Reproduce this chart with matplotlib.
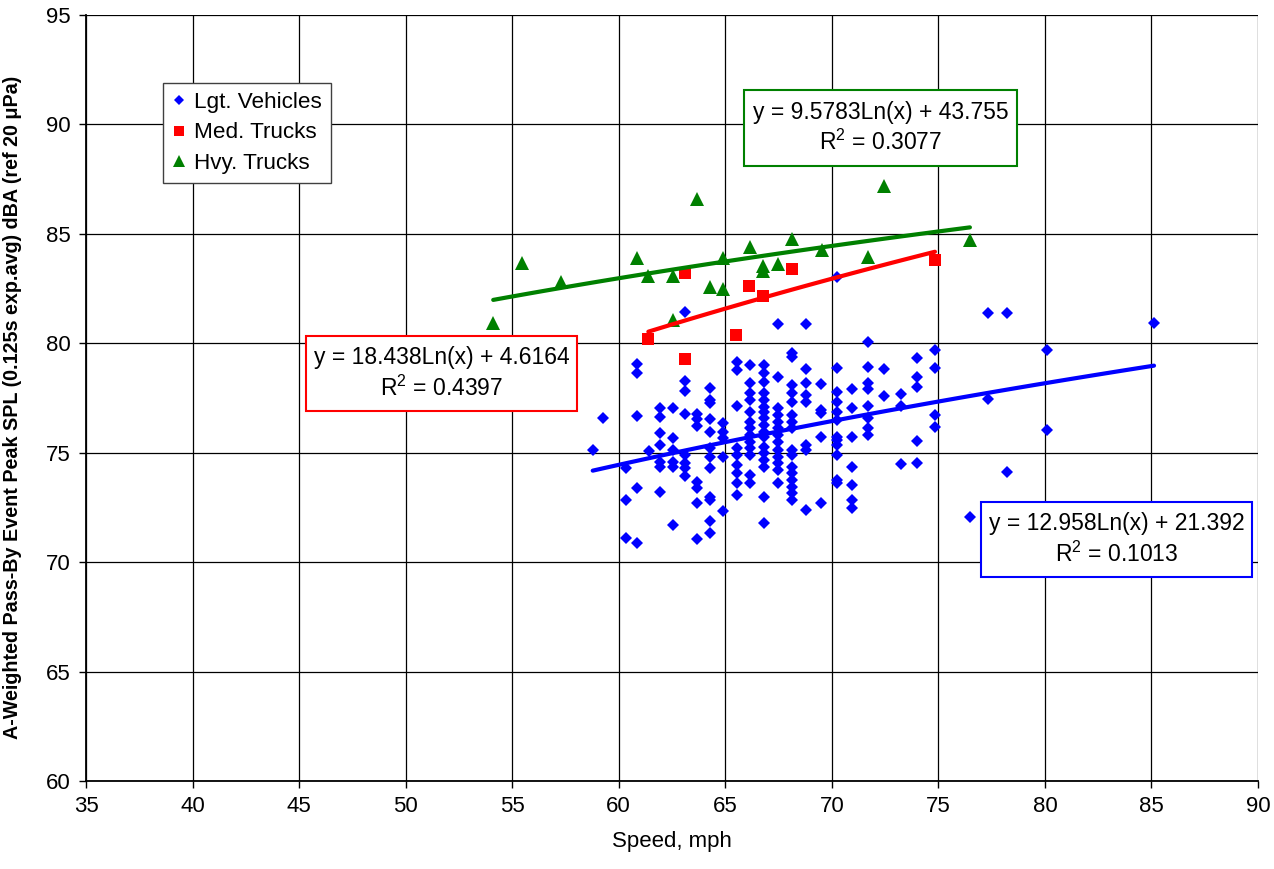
import numpy as np
import matplotlib
matplotlib.use("Agg")
import matplotlib.pyplot as plt
from matplotlib.patches import Rectangle

plt.rcParams['font.family'] = ['Liberation Sans', 'DejaVu Sans']
plt.rcParams['mathtext.default'] = 'regular'

# ---- light vehicles: speed columns and the SPL values in each column ----
lgt_speeds = [58.78, 59.28, 60.32, 60.87, 61.40, 61.94, 62.53, 63.11, 63.69, 64.28,
              64.91, 65.53, 66.16, 66.82, 67.46, 68.13, 68.79, 69.49, 70.23, 70.93,
              71.70, 72.45, 73.23, 74.01, 74.82, 76.48, 77.34, 78.23, 80.08, 85.12]
lgt_spl = [
    [75.12],
    [76.57],
    [74.29, 72.84, 71.12],
    [79.04, 78.63, 76.69, 73.40, 70.86],
    [75.08],
    [77.03, 76.62, 75.89, 75.35, 74.59, 74.36, 73.22],
    [77.06, 75.66, 75.12, 74.59, 74.36, 71.70],
    [81.44, 78.28, 77.82, 76.75, 74.90, 74.52, 74.29, 73.95],
    [76.75, 76.53, 76.22, 73.65, 73.37, 72.72, 71.04],
    [77.94, 77.41, 77.26, 76.54, 75.93, 75.20, 74.82, 74.29, 72.99, 72.84, 71.89, 71.32],
    [76.37, 75.96, 75.66, 74.82, 72.34],
    [79.16, 78.78, 77.13, 75.20, 74.90, 74.44, 74.06, 73.60, 73.07],
    [79.01, 78.17, 77.71, 77.41, 76.87, 76.42, 76.11, 75.81, 75.50, 75.20, 74.90, 73.98, 73.60],
    [79.01, 78.63, 78.25, 77.71, 77.41, 77.10, 76.87, 76.57, 76.27, 75.96, 75.73, 75.27,
     74.97, 74.66, 74.36, 72.99, 71.77],
    [80.87, 78.47, 77.03, 76.72, 76.42, 76.11, 75.81, 75.50, 75.12, 74.82, 74.52, 74.21, 73.60],
    [79.54, 79.39, 78.09, 77.71, 77.33, 76.72, 76.42, 76.11, 75.12, 74.90, 74.36, 74.06,
     73.75, 73.45, 73.15, 72.84],
    [80.87, 78.81, 78.20, 77.64, 77.33, 75.35, 75.12, 72.38],
    [78.13, 76.95, 76.80, 75.73, 72.68],
    [83.04, 78.85, 77.79, 77.33, 76.87, 76.49, 75.73, 75.58, 75.35, 74.90, 73.75, 73.60],
    [77.90, 77.03, 75.73, 74.36, 73.52, 72.84, 72.46],
    [80.07, 78.93, 78.17, 77.90, 77.13, 76.57, 76.11, 75.81],
    [78.81, 77.59],
    [77.68, 77.13, 74.48],
    [79.31, 78.47, 78.02, 75.55, 74.54],
    [79.69, 78.86, 76.72, 76.19],
    [72.05],
    [81.37, 77.44],
    [81.37, 74.13],
    [79.69, 76.04],
    [80.93],
]

# ---- medium trucks ----
med_speed = [61.39, 63.11, 63.11, 65.50, 66.13, 66.79, 68.11, 74.84]
med_spl = [80.20, 83.20, 79.27, 80.38, 82.62, 82.17, 83.39, 83.81]

# ---- heavy trucks ----
hvy_speed = [54.11, 55.44, 57.29, 60.84, 61.39, 62.53, 62.53, 63.69, 64.28, 64.91, 64.91,
             66.16, 66.79, 66.79, 67.46, 68.11, 69.52, 71.71, 72.45, 76.48]
hvy_spl = [80.91, 83.68, 82.82, 83.91, 83.09, 83.09, 81.06, 86.58, 82.59, 82.47, 83.88,
           84.38, 83.32, 83.52, 83.60, 84.75, 84.26, 83.96, 87.19, 84.72]

# log trendline coefficients (a*ln(x) + b) as printed on the chart
lgt_fit = (12.958, 21.392)
med_fit = (18.438, 4.6164)
hvy_fit = (9.5783, 43.755)

lgt_x = np.concatenate([[s] * len(v) for s, v in zip(lgt_speeds, lgt_spl)])
lgt_y = np.concatenate(lgt_spl)

W, H = 1274, 869
fig = plt.figure(figsize=(W / 100, H / 100), dpi=100)
fig.patch.set_facecolor('white')
ax = fig.add_axes([86 / W, 1 - 781 / H, (1258 - 86) / W, (781 - 15) / H])

ax.set_xlim(35, 90)
ax.set_ylim(60, 95)
ax.set_xticks(np.arange(35, 91, 5))
ax.set_yticks(np.arange(60, 96, 5))
ax.grid(True, color='black', linewidth=0.9)
ax.set_axisbelow(True)
for side in ['top', 'right']:
    ax.spines[side].set_visible(False)
for side in ['left', 'bottom']:
    ax.spines[side].set_linewidth(1.3)
ax.tick_params(labelsize=16, direction='out', length=5, width=1.0, pad=6)

ax.plot(lgt_x, lgt_y, linestyle='none', marker='D', markersize=6.2,
        color='#0000ff', markeredgewidth=0, label='Lgt. Vehicles', zorder=3)
ax.plot(med_speed, med_spl, linestyle='none', marker='s', markersize=8.2,
        color='#ff0000', markeredgewidth=0, label='Med. Trucks', zorder=3)
ax.plot(hvy_speed, hvy_spl, linestyle='none', marker='^', markersize=10,
        color='#008000', markeredgewidth=0, label='Hvy. Trucks', zorder=3)

# trendlines over each series' speed range
for xs, fit, col in [(lgt_x, lgt_fit, '#0000ff'), (med_speed, med_fit, '#ff0000'),
                     (hvy_speed, hvy_fit, '#008000')]:
    xx = np.linspace(min(xs), max(xs), 100)
    ax.plot(xx, fit[0] * np.log(xx) + fit[1], color=col, linewidth=3,
            solid_capstyle='round', zorder=4)

ax.set_xlabel('Speed, mph', fontsize=16, labelpad=10)
ax.set_ylabel('A-Weighted Pass-By Event Peak SPL (0.125s exp.avg) dBA (ref 20 μPa)',
              fontsize=14.2, fontweight='bold',
              family=['Liberation Sans Narrow', 'Liberation Sans'])
ax.yaxis.set_label_coords(-(86 - 22) / 1172, 0.488)

leg = ax.legend(loc='upper left', bbox_to_anchor=((163 - 86) / 1172, (781 - 83) / 766),
                borderaxespad=0, fontsize=16.2, fancybox=False, framealpha=1,
                edgecolor='#404040', handlelength=0.6, handletextpad=0.4,
                labelspacing=0.42, borderpad=0.4, markerscale=0.9)
leg.get_frame().set_linewidth(1.0)
leg.set_zorder(6)

# equation boxes (pixel boxes in figure space)
boxes = [
    (744, 90, 1017, 166, '#008000', 'y = 9.5783Ln(x) + 43.755\nR$^2$ = 0.3077'),
    (306, 336, 577, 411, '#ff0000', 'y = 18.438Ln(x) + 4.6164\nR$^2$ = 0.4397'),
    (981, 502, 1252, 577, '#0000ff', 'y = 12.958Ln(x) + 21.392\nR$^2$ = 0.1013'),
]
for x0, y0, x1, y1, col, txt in boxes:
    fig.patches.append(Rectangle((x0 / W, 1 - y1 / H), (x1 - x0) / W, (y1 - y0) / H,
                                 transform=fig.transFigure, facecolor='white',
                                 edgecolor=col, linewidth=1.5, zorder=5))
    fig.text((x0 + x1) / 2 / W, 1 - (y0 + y1) / 2 / H, txt, ha='center', va='center',
             multialignment='center', fontsize=16.5, linespacing=1.3, zorder=6)

fig.savefig('out.png', dpi=100)
